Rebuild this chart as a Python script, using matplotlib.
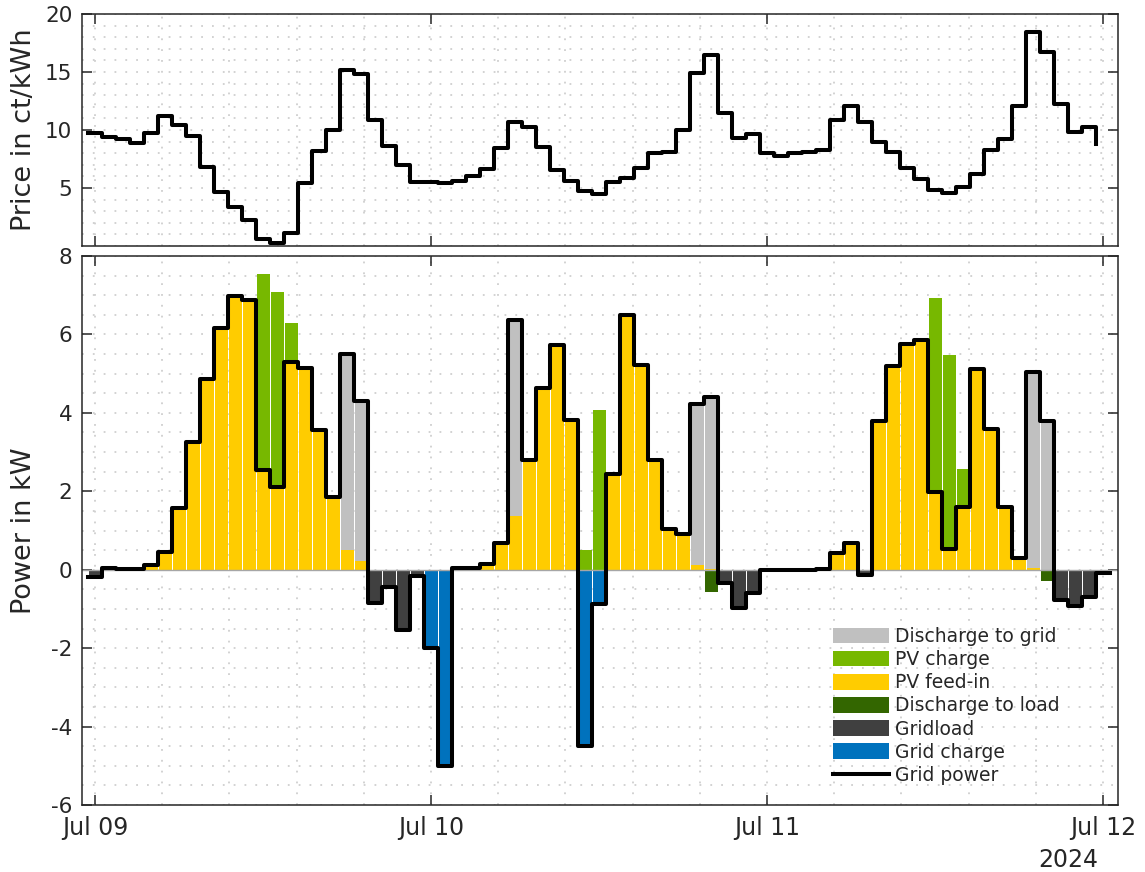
import numpy as np
import matplotlib
matplotlib.use('Agg')
import matplotlib.pyplot as plt
from matplotlib.ticker import MultipleLocator, FixedLocator

# hourly data, Jul 09 00:00 .. Jul 12 00:00
hours = np.arange(73)

price = [9.7, 9.4, 9.2, 8.85, 9.77, 11.2, 10.43, 9.48, 6.8, 4.68, 3.39, 2.24,
         0.57, 0.29, 1.15, 5.46, 8.19, 9.97, 15.17, 14.8, 10.86, 8.62, 6.98, 5.52,
         5.55, 5.46, 5.6, 6.03, 6.67, 8.48, 10.69, 10.29, 8.53, 6.55, 5.6, 4.74,
         4.51, 5.55, 5.89, 6.75, 8.05, 8.13, 10.0, 14.89, 16.44, 11.44, 9.34, 9.68,
         8.05, 7.76, 7.99, 8.13, 8.28, 10.83, 12.07, 10.72, 8.97, 8.13, 6.7, 5.75,
         4.83, 4.54, 5.09, 6.18, 8.25, 9.2, 12.07, 18.48, 16.75, 12.21, 9.83, 10.29,
         8.76]

pv_feed_in = [0, 0.04, 0.01, 0.01, 0.13, 0.44, 1.57, 3.26, 4.87, 6.16, 6.99, 6.88,
              2.54, 2.12, 5.30, 5.15, 3.56, 1.84, 0.51, 0.21, 0, 0, 0, 0,
              0, 0, 0.04, 0.04, 0.15, 0.68, 1.38, 2.80, 4.64, 5.72, 3.81, 0,
              0, 2.44, 6.50, 5.21, 2.81, 1.03, 0.90, 0.13, 0.02, 0, 0, 0,
              0, 0, 0, 0, 0.02, 0.42, 0.69, 0, 3.80, 5.19, 5.75, 5.86,
              1.99, 0.53, 1.61, 5.13, 3.60, 1.61, 0.30, 0.05, 0, 0, 0, 0,
              0]

pv_charge = [0, 0, 0, 0, 0, 0, 0, 0, 0, 0, 0, 0,
             4.99, 4.97, 0.99, 0, 0, 0, 0, 0, 0, 0, 0, 0,
             0, 0, 0, 0, 0, 0, 0, 0, 0, 0, 0, 0.51,
             4.08, 0, 0, 0, 0, 0, 0, 0, 0, 0, 0, 0,
             0, 0, 0, 0, 0, 0, 0, 0, 0, 0, 0, 0,
             4.94, 4.95, 0.95, 0, 0, 0, 0, 0, 0, 0, 0, 0,
             0]

discharge_grid = [0, 0, 0, 0, 0, 0, 0, 0, 0, 0, 0, 0,
                  0, 0, 0, 0, 0, 0, 4.98, 4.09, 0, 0, 0, 0,
                  0, 0, 0, 0, 0, 0, 4.98, 0, 0, 0, 0, 0,
                  0, 0, 0, 0, 0, 0, 0, 4.09, 4.39, 0, 0, 0,
                  0, 0, 0, 0, 0, 0, 0, 0, 0, 0, 0, 0,
                  0, 0, 0, 0, 0, 0, 0, 4.98, 3.79, 0, 0, 0,
                  0]

discharge_load = [0] * 44 + [-0.56] + [0] * 23 + [-0.30] + [0] * 4

gridload = [-0.19, 0, 0, 0, 0, 0, 0, 0, 0, 0, 0, 0,
            0, 0, 0, 0, 0, 0, 0, 0, -0.84, -0.38, -1.54, -0.13,
            0, 0, 0, 0, 0, 0, 0, 0, 0, 0, 0, 0,
            0, 0, 0, 0, 0, 0, 0, 0, 0, -0.33, -0.98, -0.58,
            0, 0, 0, 0, 0, 0, 0, -0.13, 0, 0, 0, 0,
            0, 0, 0, 0, 0, 0, 0, 0, 0, -0.78, -0.93, -0.70,
            -0.08]

grid_charge = [0] * 24 + [-2.0, -5.0] + [0] * 9 + [-4.5, -0.88] + [0] * 36

grid_power = [-0.19, 0.04, 0.01, 0.01, 0.13, 0.44, 1.57, 3.26, 4.87, 6.16, 6.99, 6.88,
              2.54, 2.12, 5.30, 5.15, 3.56, 1.86, 5.49, 4.30, -0.84, -0.43, -1.54, -0.15,
              -2.0, -5.0, 0.04, 0.04, 0.15, 0.68, 6.36, 2.80, 4.64, 5.72, 3.81, -4.5,
              -0.88, 2.44, 6.50, 5.21, 2.81, 1.03, 0.90, 4.22, 4.41, -0.33, -0.98, -0.60,
              0, 0, 0, 0, 0.02, 0.42, 0.69, -0.13, 3.80, 5.19, 5.75, 5.86,
              1.99, 0.53, 1.61, 5.13, 3.60, 1.61, 0.30, 5.03, 3.79, -0.78, -0.93, -0.70,
              -0.08]

day_ticks = [0, 24, 48, 72]
day_labels = ['Jul 09', 'Jul 10', 'Jul 11', 'Jul 12']

c_disgrid = '#c0c0c0'
c_pvcharge = '#77b800'
c_pvfeed = '#ffcc00'
c_disload = '#336600'
c_gridload = '#404040'
c_gridcharge = '#0072bd'
c_axis = '#262626'
c_grid = '#cfcfcf'

plt.rcParams['font.family'] = ['DejaVu Sans']
plt.rcParams['axes.unicode_minus'] = False

W, H = 1145, 872
fig = plt.figure(figsize=(W / 100, H / 100), dpi=100)
left, right = 82, 1118
ax1 = fig.add_axes([left / W, 1 - 246 / H, (right - left) / W, (246 - 14) / H])
ax2 = fig.add_axes([left / W, 1 - 805 / H, (right - left) / W, (805 - 256) / H])

xlim = (-0.93, 73.07)
minor_x = np.arange(0, 73.1, 4.8)


def style_axes(ax, minor_y):
    ax.set_xlim(*xlim)
    ax.xaxis.set_major_locator(FixedLocator(day_ticks))
    ax.xaxis.set_minor_locator(FixedLocator(minor_x))
    ax.yaxis.set_minor_locator(MultipleLocator(minor_y))
    ax.grid(True, which='both', color=c_grid, linestyle=(0, (1, 5)), linewidth=1.3)
    ax.set_axisbelow(True)
    ax.tick_params(which='major', direction='in', length=7, width=1.1, colors=c_axis,
                   top=True, right=True, labelsize=15.5)
    ax.tick_params(which='minor', length=0)
    ax.tick_params(axis='y', pad=7)
    ax.tick_params(axis='x', labelsize=17, pad=8)
    for s in ax.spines.values():
        s.set_color(c_axis)
        s.set_linewidth(1.1)


# price panel
style_axes(ax1, 1)
ax1.plot(hours - 0.5, price, drawstyle='steps-post', color='black', lw=2.9)
ax1.set_ylim(0, 20)
ax1.set_yticks([5, 10, 15, 20])
ax1.set_xticklabels([])
ax1.set_ylabel('Price in ct/kWh', fontsize=19.5, color=c_axis, va='center')
ax1.yaxis.set_label_coords(-0.056, 0.5)

# power panel
style_axes(ax2, 0.5)
pv_feed_in = np.array(pv_feed_in)
pv_charge = np.array(pv_charge)
discharge_load = np.array(discharge_load)
gridload = np.array(gridload)
bw = 0.93
b_pvfeed = ax2.bar(hours, pv_feed_in, bw, color=c_pvfeed, zorder=2)
b_pvcharge = ax2.bar(hours, pv_charge, bw, bottom=pv_feed_in, color=c_pvcharge, zorder=2)
b_disgrid = ax2.bar(hours, discharge_grid, bw, bottom=pv_feed_in + pv_charge,
                    color=c_disgrid, zorder=2)
b_disload = ax2.bar(hours, discharge_load, bw, color=c_disload, zorder=2)
b_gridload = ax2.bar(hours, gridload, bw, bottom=discharge_load, color=c_gridload, zorder=2)
b_gridcharge = ax2.bar(hours, grid_charge, bw, bottom=discharge_load + gridload,
                       color=c_gridcharge, zorder=2)
ax2.axhline(0, color='#a6a6a6', lw=1, zorder=2.5)
gx = np.append(hours - 0.5, hours[-1] + 0.5)
gy = np.append(grid_power, grid_power[-1])
l_grid, = ax2.plot(gx, gy, drawstyle='steps-post', color='black', lw=2.9, zorder=3)
ax2.set_ylim(-6, 8)
ax2.set_yticks(np.arange(-6, 9, 2))
ax2.set_xticklabels(day_labels)
ax2.set_ylabel('Power in kW', fontsize=19.5, color=c_axis, va='center')
ax2.yaxis.set_label_coords(-0.056, 0.5)
fig.text(1068 / W, 1 - 860 / H, '2024', fontsize=17, color=c_axis, ha='center', va='center')

handles = [b_disgrid, b_pvcharge, b_pvfeed, b_disload, b_gridload, b_gridcharge, l_grid]
names = ['Discharge to grid', 'PV charge', 'PV feed-in', 'Discharge to load',
         'Gridload', 'Grid charge', 'Grid power']
leg = ax2.legend(handles, names, loc='upper left', bbox_to_anchor=(833 / W, 1 - 627 / H),
                 bbox_transform=fig.transFigure, frameon=False, fontsize=13.5,
                 handlelength=3.0, handleheight=0.9, handletextpad=0.3,
                 labelspacing=0.22, borderpad=0, borderaxespad=0)
for t in leg.get_texts():
    t.set_color(c_axis)

fig.savefig('out.png', dpi=100)
